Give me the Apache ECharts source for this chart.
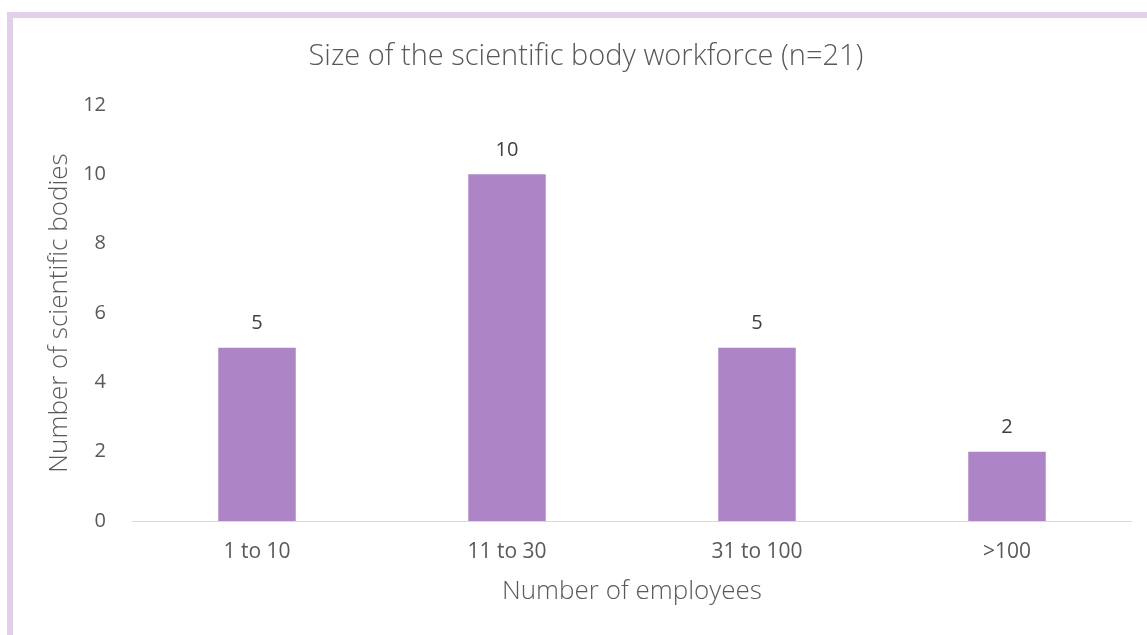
<!DOCTYPE html>
<html>
<head>
<meta charset="utf-8">
<script src="https://cdn.jsdelivr.net/npm/echarts@6/dist/echarts.min.js"></script>
<style>
  html, body { margin: 0; padding: 0; background: #fff; }
  #frame {
    position: absolute; left: 7px; top: 12px; right: 0; bottom: 0;
    border-top: 6px solid #e0d0ea; border-left: 6px solid #e0d0ea;
  }
  #chart { position: absolute; left: 0; top: 0; width: 1147px; height: 635px; }
</style>
</head>
<body>
<div id="frame"></div>
<div id="chart"></div>
<script>
const categories = ['1 to 10', '11 to 30', '31 to 100', '>100'];
const bodies = [5, 10, 5, 2];
const yTicks = { min: 0, max: 12, interval: 2 };

const textColor = '#595959';
const font = '"Open Sans", "Noto Sans", sans-serif';

const chart = echarts.init(document.getElementById('chart'), null, { renderer: 'canvas' });
chart.setOption({
  backgroundColor: 'transparent',
  animation: false,
  title: {
    text: 'Size of the scientific body workforce (n=21)',
    left: 581, top: 37, textAlign: 'center',
    textStyle: { color: textColor, fontFamily: font, fontSize: 29, fontWeight: 300 }
  },
  grid: { left: 132, right: 15, top: 105, bottom: 114, containLabel: false },
  xAxis: {
    type: 'category',
    data: categories,
    name: 'Number of employees',
    nameLocation: 'middle',
    nameGap: 58,
    nameTextStyle: { color: textColor, fontFamily: font, fontSize: 26, fontWeight: 300 },
    axisLine: { lineStyle: { color: '#d9d9d9', width: 1 } },
    axisTick: { show: false },
    axisLabel: { color: textColor, fontFamily: font, fontSize: 21, margin: 21 }
  },
  yAxis: {
    type: 'value',
    min: yTicks.min, max: yTicks.max, interval: yTicks.interval,
    name: 'Number of scientific bodies',
    nameLocation: 'middle',
    nameGap: 53,
    nameTextStyle: { color: textColor, fontFamily: font, fontSize: 26, fontWeight: 300 },
    axisLine: { show: false },
    axisTick: { show: false },
    splitLine: { show: false },
    axisLabel: { color: textColor, fontFamily: font, fontSize: 20, margin: 26 }
  },
  series: [{
    type: 'bar',
    data: bodies,
    barWidth: '31%',
    itemStyle: { color: '#ad85c6' },
    label: {
      show: true, position: 'top', distance: 14,
      color: '#404040', fontFamily: font, fontSize: 20
    }
  }]
});
</script>
</body>
</html>
